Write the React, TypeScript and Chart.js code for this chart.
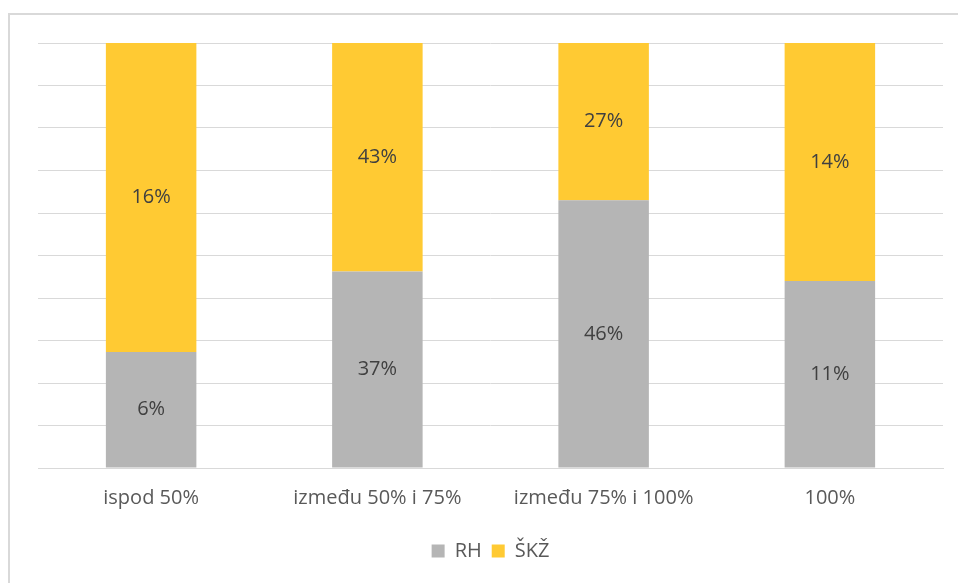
import React, { useEffect, useRef } from "react";
import { Chart, registerables } from "chart.js";

Chart.register(...registerables);

const categories = ["ispod 50%", "između 50% i 75%", "između 75% i 100%", "100%"];
const seriesNames = ["RH", "ŠKŽ"];
const rhValues = [6, 37, 46, 11];
const skzValues = [16, 43, 27, 14];
const seriesColors = ["#b5b5b5", "#ffca33"];

const FONT = "'Open Sans', 'Noto Sans', sans-serif";

const valueLabels = {
  id: "valueLabels",
  afterDatasetsDraw(chart: any) {
    const ctx = chart.ctx;
    ctx.save();
    ctx.font = `20px ${FONT}`;
    ctx.fillStyle = "#404040";
    ctx.textAlign = "center";
    ctx.textBaseline = "middle";
    chart.data.datasets.forEach((ds: any, di: number) => {
      const meta = chart.getDatasetMeta(di);
      meta.data.forEach((bar: any, i: number) => {
        const y = (bar.y + bar.base) / 2;
        ctx.fillText(ds.raw[i] + "%", bar.x, y);
      });
    });
    ctx.restore();
  },
};

export default function App() {
  const ref = useRef<HTMLCanvasElement | null>(null);
  useEffect(() => {
    const totals = rhValues.map((v, i) => v + skzValues[i]);
    const rhPct = rhValues.map((v, i) => (v / totals[i]) * 100);
    const skzPct = skzValues.map((v, i) => (v / totals[i]) * 100);
    const chart = new Chart(ref.current!, {
      type: "bar",
      data: {
        labels: categories,
        datasets: [
          { label: seriesNames[0], data: rhPct, raw: rhValues, backgroundColor: seriesColors[0], barPercentage: 0.4, categoryPercentage: 1 } as any,
          { label: seriesNames[1], data: skzPct, raw: skzValues, backgroundColor: seriesColors[1], barPercentage: 0.4, categoryPercentage: 1 } as any,
        ],
      },
      options: {
        animation: false,
        responsive: false,
        maintainAspectRatio: false,
        layout: { padding: { left: 38, right: 15, top: 43, bottom: 12 } },
        plugins: {
          tooltip: { enabled: false },
          legend: {
            position: "bottom",
            labels: {
              boxWidth: 13,
              boxHeight: 13,
              color: "#595959",
              font: { family: FONT, size: 20 },
              padding: 10,
            },
          },
        },
        scales: {
          x: {
            stacked: true,
            grid: { display: false },
            border: { display: true, color: "#d9d9d9", width: 1 },
            ticks: { color: "#595959", font: { family: FONT, size: 20 }, padding: 10, maxRotation: 0 },
            afterFit: (s: any) => { s.height = 63; },
          },
          y: {
            stacked: true,
            min: 0,
            max: 100,
            ticks: { display: false, stepSize: 10 },
            grid: { color: "#d9d9d9", lineWidth: 1, drawTicks: false },
            border: { display: false },
            afterFit: (s: any) => { s.width = 0; },
          },
        },
      },
      plugins: [valueLabels],
    });
    return () => chart.destroy();
  }, []);
  return (
    <div style={{ position: "absolute", left: 0, top: 0, width: 958, height: 583, background: "#fff", overflow: "hidden" }}>
      <div style={{ position: "absolute", left: 8, top: 13, width: 960, height: 600, border: "2px solid #d9d9d9", boxSizing: "border-box" }} />
      <canvas ref={ref} width={958} height={583} style={{ position: "absolute", left: 0, top: 0 }} />
    </div>
  );
}
